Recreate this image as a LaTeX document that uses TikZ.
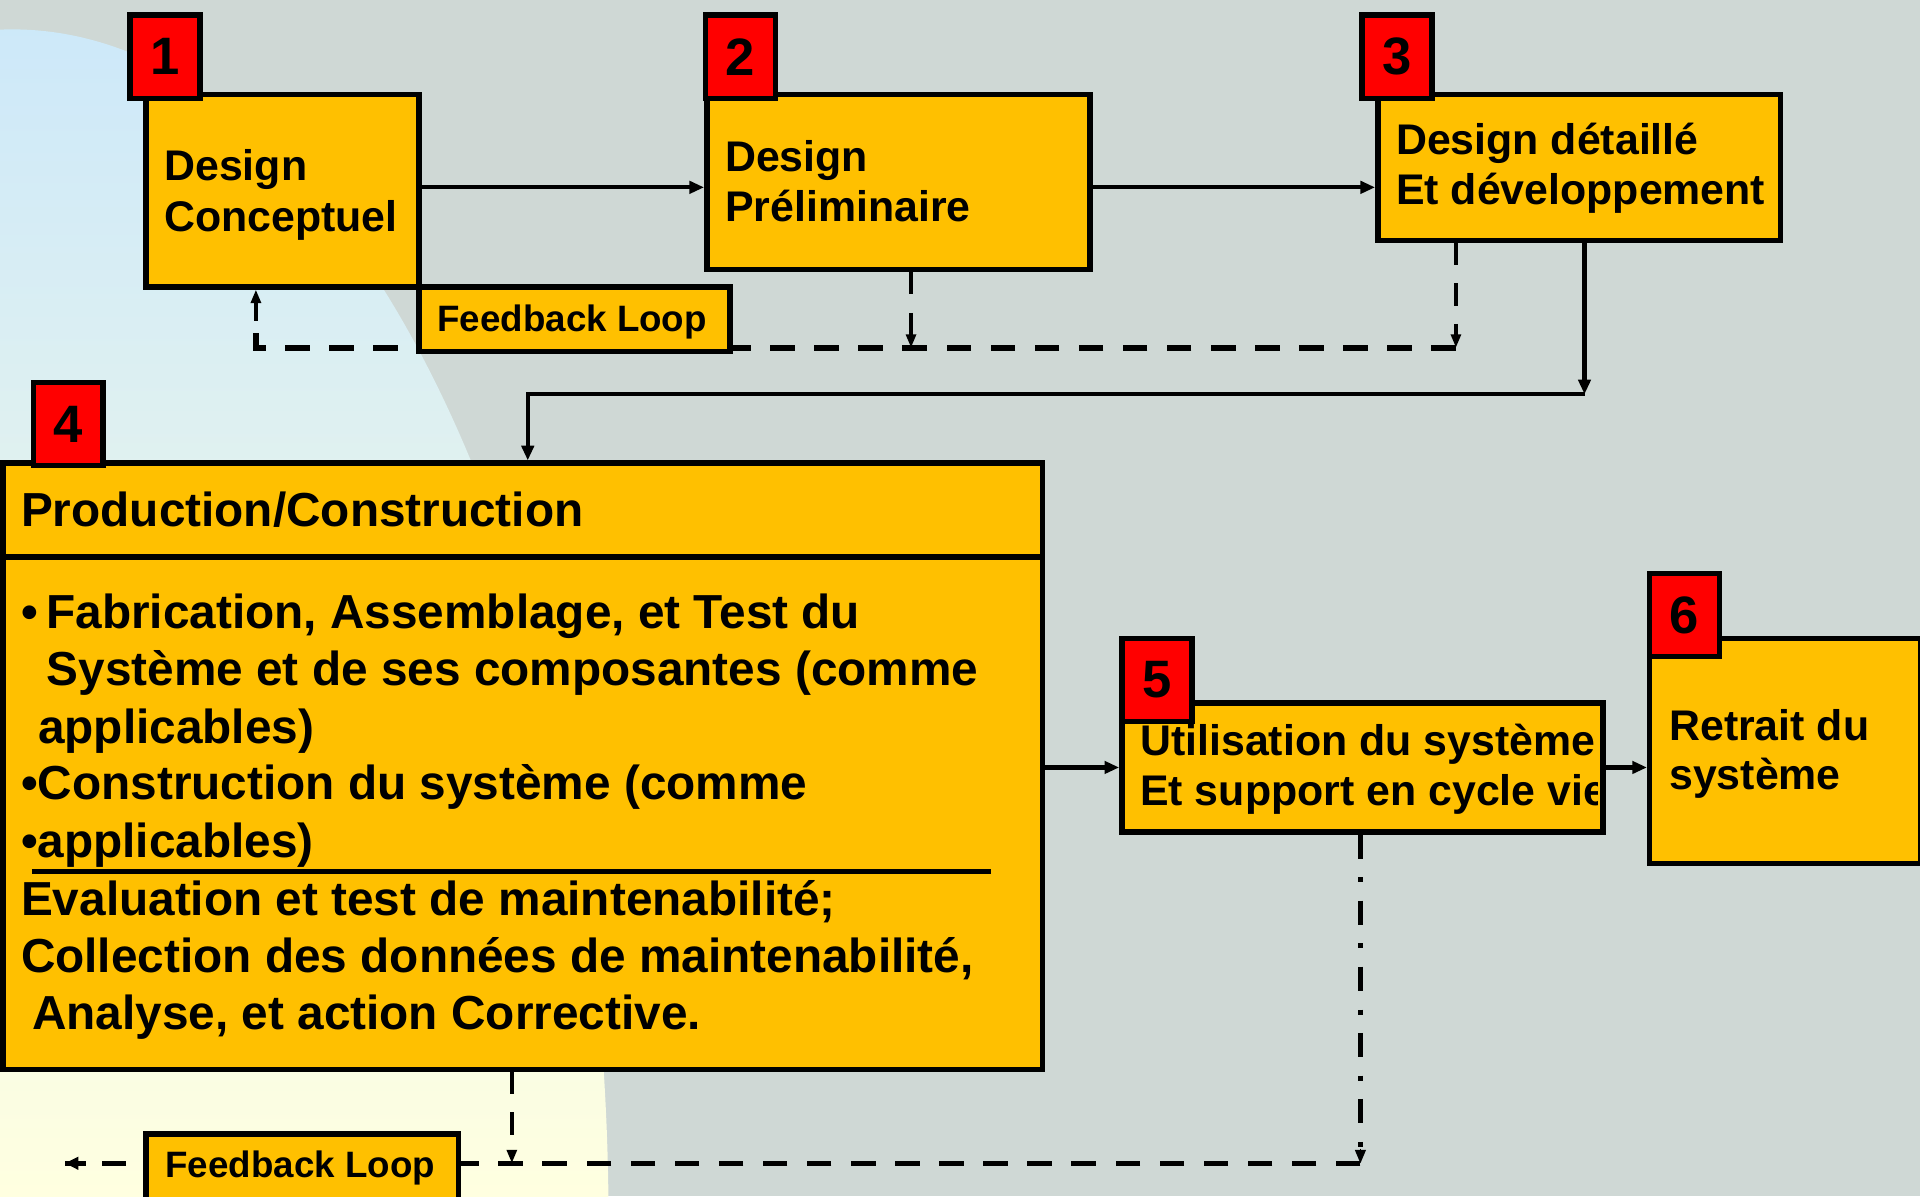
\documentclass[tikz,border=0pt]{standalone}
\usepackage{fontspec}
\setmainfont{Liberation Sans}
\usetikzlibrary{arrows.meta}
\definecolor{bgc}{RGB}{207,216,213}
\definecolor{orng}{RGB}{255,192,0}
\definecolor{redsq}{RGB}{255,0,0}
\definecolor{skyb}{RGB}{204,232,250}
\definecolor{lyel}{RGB}{255,255,224}
\newcommand{\fA}{\fontsize{35}{41}\selectfont\bfseries}
\newcommand{\fB}{\fontsize{39}{46}\selectfont\bfseries}
\newcommand{\fC}{\fontsize{30}{36}\selectfont\bfseries}
\newcommand{\fN}{\fontsize{43}{50}\selectfont\bfseries}
\begin{document}
\begin{tikzpicture}[x=1pt,y=-1pt,
  boxst/.style={draw=black, line width=4.5pt, fill=orng, inner sep=0pt, anchor=north west},
  numsq/.style={draw=black, line width=4.5pt, fill=redsq, inner sep=0pt, anchor=north west,
    minimum width=57pt, minimum height=68pt, font=\fN},
  txt/.style={inner sep=0pt, anchor=base west},
  solidcon/.style={line width=3.5pt, -{Triangle[length=12pt,width=10pt]}},
  dashH/.style={line width=4.5pt, dash pattern=on 20pt off 16pt},
  dashV/.style={line width=3.5pt, dash pattern=on 18pt off 15pt, -{Triangle[length=11pt,width=8pt]}},
  dashdot/.style={line width=4pt, dash pattern=on 20pt off 15pt on 4pt off 15pt}]
\useasboundingbox (0,0) rectangle (1568,977);
% background
\fill[bgc] (0,0) rectangle (1568,977);
\begin{scope}
  \clip (10,1000) ellipse [x radius=487pt, y radius=976pt];
  \shade[top color=skyb, bottom color=lyel] (0,0) rectangle (1568,977);
\end{scope}

% bend points
\coordinate (fbR) at (1189,284);
\coordinate (fbM) at (744,284);
\coordinate (fbL) at (209,284);
\coordinate (c3) at (1294,322);
\coordinate (c4) at (431,322);
\coordinate (dd) at (1111,950);
\coordinate (ddL) at (53,950);
\coordinate (d4) at (418,950);

% boxes
\path node[boxst, minimum width=223pt, minimum height=157pt] (b1) at (117,75) {};
\path node[boxst, minimum width=313pt, minimum height=143pt] (b2) at (575,75) {};
\path node[boxst, minimum width=329pt, minimum height=119pt] (b3) at (1123,75) {};
\path node[boxst, minimum width=849pt, minimum height=495pt] (b4) at (0,376) {};
\path node[boxst, minimum width=393pt, minimum height=105pt] (b5) at (914,572) {};
\path node[boxst, minimum width=221pt, minimum height=184pt] (b6) at (1345,519) {};

% connectors
\draw[solidcon] (b1.east |- 0,153) -- (b2.west |- 0,153);
\draw[solidcon] (b2.east |- 0,153) -- (b3.west |- 0,153);
\draw[dashH] (fbR) -- (fbL) -- (fbL |- 0,262);
\draw[dashV] (fbL |- 0,262) -- (fbL |- b1.south);
\draw[dashV] (b2.south -| fbM) -- (fbM);
\draw[dashV] (b3.south -| fbR) -- (fbR);
\draw[solidcon] (b3.south -| c3) -- (c3);
\draw[solidcon] (c3) -- (c4) -- (c4 |- b4.north);
\draw[solidcon] (b4.east |- b5.west) -- (b5.west);
\draw[solidcon] (b5.east) -- (b5.east -| b6.west);
\draw[dashdot] (b5.south -| dd) -- ([yshift=-1pt]dd);
\draw[-{Triangle[length=11pt,width=9pt]}, line width=1pt] ([yshift=12pt]dd) -- (dd);
\draw[dashH] (dd) -- (ddL |- 0,950) ++(14,0);
\draw[line width=4.5pt, -{Triangle[length=11pt,width=10pt]}] (70,950) -- (ddL);
\draw[dashV] (b4.south -| d4) -- (d4);

% redraw boxes on top of connector ends
\path node[boxst, minimum width=223pt, minimum height=157pt] (b1t) at (117,75) {};
\path node[boxst, minimum width=313pt, minimum height=143pt] (b2t) at (575,75) {};
\path node[boxst, minimum width=329pt, minimum height=119pt] (b3t) at (1123,75) {};
\path node[boxst, minimum width=393pt, minimum height=105pt] (b5t) at (914,572) {};
\path node[boxst, minimum width=221pt, minimum height=184pt] (b6t) at (1345,519) {};
\draw[line width=4.5pt] (b4.west |- 0,455) -- (b4.east |- 0,455);
\draw[line width=4pt] (26,712) -- (809,712);

% feedback boxes
\path node[boxst, minimum width=254pt, minimum height=53pt] (fb1) at (340,232) {};
\path node[boxst, minimum width=255pt, minimum height=80pt] (fb2) at (117,924) {};
\node[txt, font=\fC] (fb1t) at (357,271) {Feedback Loop};
\node[txt, font=\fC] (fb2t) at (135,962) {Feedback Loop};

% number squares
\node[numsq] (n1) at (104,10) {1};
\node[numsq] (n2) at (574,10) {2};
\node[numsq] (n3) at (1110,10) {3};
\node[numsq] (n4) at (25,310) {4};
\node[numsq] (n5) at (914,519) {5};
\node[numsq] (n6) at (1345,466) {6};

% texts
\node[txt, font=\fA] (t1a) at (134,147) {Design};
\node[txt, font=\fA] (t1b) at (134,189) {Conceptuel};
\node[txt, font=\fA] (t2a) at (592,140) {Design};
\node[txt, font=\fA] (t2b) at (592,181) {Préliminaire};
\node[txt, font=\fA] (t3a) at (1140,126) {Design détaillé};
\node[txt, font=\fA] (t3b) at (1140,167) {Et développement};
\begin{scope}
  \clip (914,572) rectangle (1305,677);
  \node[txt, font=\fA] (t5a) at (931,617) {Utilisation du système};
  \node[txt, font=\fA] (t5b) at (931,658) {Et support en cycle vie};
\end{scope}
\node[txt, font=\fA] (t6a) at (1363,605) {Retrait du};
\node[txt, font=\fA] (t6b) at (1363,645) {système};

\node[txt, font=\fB] (t4h) at (17,430) {Production/Construction};
\node[txt, font=\fB] (t4a) at (17,513) {•\hspace{7pt}Fabrication, Assemblage, et Test du};
\node[txt, font=\fB] (t4b) at (38,560) {Système et de ses composantes (comme};
\node[txt, font=\fB] (t4c) at (31,607) {applicables)};
\node[txt, font=\fB] (t4d) at (17,653) {•Construction du système (comme};
\node[txt, font=\fB] (t4e) at (17,700) {•applicables)};
\node[txt, font=\fB] (t4f) at (17,748) {Evaluation et test de maintenabilité;};
\node[txt, font=\fB] (t4g) at (17,794) {Collection des données de maintenabilité,};
\node[txt, font=\fB] (t4i) at (26,841) {Analyse, et action Corrective.};
\end{tikzpicture}
\end{document}
